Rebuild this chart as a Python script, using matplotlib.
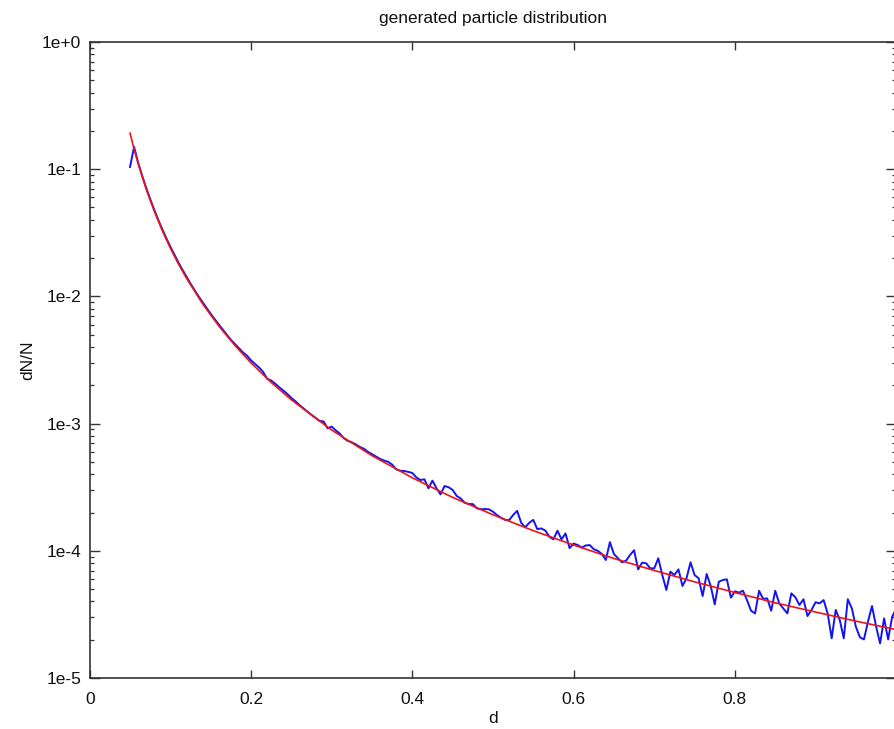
import numpy as np
import matplotlib
matplotlib.use("Agg")
import matplotlib.pyplot as plt
from matplotlib.ticker import FixedLocator, FixedFormatter, LogLocator, NullFormatter

plt.rcParams['font.family'] = ['Liberation Sans', 'DejaVu Sans']

# generated distribution, sampled every 0.005 from d = 0.05 to d = 1.0
dndn = [
    0.104, 0.150, 0.113, 0.089, 0.0715, 0.0582, 0.0480, 0.0400, 0.0337, 0.0287,
    0.0246, 0.0213, 0.0185, 0.0162, 0.0143, 0.0126, 0.0112, 0.0100, 0.00900, 0.00808,
    0.00730, 0.00662, 0.00602, 0.00549, 0.00502, 4.56e-3, 4.23e-3, 3.93e-3, 3.63e-3, 3.42e-3,
    3.14e-3, 2.94e-3, 2.76e-3, 2.55e-3, 2.25e-3, 2.18e-3, 2.06e-3, 1.93e-3, 1.82e-3, 1.71e-3,
    1.59e-3, 1.50e-3, 1.40e-3, 1.32e-3, 1.24e-3, 1.17e-3, 1.11e-3, 1.05e-3, 1.04e-3, 9.18e-4,
    9.47e-4, 8.85e-4, 8.36e-4, 7.68e-4, 7.32e-4, 7.12e-4, 6.86e-4, 6.55e-4, 6.34e-4, 6.00e-4,
    5.75e-4, 5.50e-4, 5.28e-4, 5.12e-4, 5.01e-4, 4.76e-4, 4.37e-4, 4.26e-4, 4.24e-4, 4.17e-4,
    4.09e-4, 3.78e-4, 3.60e-4, 3.65e-4, 3.10e-4, 3.56e-4, 3.10e-4, 2.78e-4, 3.23e-4, 3.16e-4,
    3.01e-4, 2.70e-4, 2.58e-4, 2.39e-4, 2.33e-4, 2.33e-4, 2.16e-4, 2.12e-4, 2.13e-4, 2.12e-4,
    2.03e-4, 1.91e-4, 1.82e-4, 1.75e-4, 1.74e-4, 1.91e-4, 2.06e-4, 1.66e-4, 1.53e-4, 1.66e-4,
    1.75e-4, 1.48e-4, 1.50e-4, 1.44e-4, 1.29e-4, 1.23e-4, 1.44e-4, 1.23e-4, 1.37e-4, 1.05e-4,
    1.14e-4, 1.11e-4, 1.06e-4, 1.10e-4, 1.11e-4, 1.03e-4, 1.00e-4, 9.44e-5, 8.47e-5, 1.17e-4,
    9.44e-5, 8.73e-5, 8.12e-5, 8.36e-5, 9.27e-5, 1.01e-4, 7.15e-5, 8.07e-5, 7.98e-5, 7.28e-5,
    7.28e-5, 8.73e-5, 6.45e-5, 4.92e-5, 6.85e-5, 6.45e-5, 7.15e-5, 5.29e-5, 6.08e-5, 8.12e-5,
    6.45e-5, 6.08e-5, 4.41e-5, 6.57e-5, 5.29e-5, 3.79e-5, 5.71e-5, 5.89e-5, 5.97e-5, 4.28e-5,
    4.80e-5, 4.69e-5, 4.85e-5, 4.10e-5, 3.38e-5, 3.22e-5, 4.85e-5, 4.18e-5, 4.23e-5, 3.38e-5,
    4.85e-5, 3.86e-5, 3.53e-5, 3.22e-5, 4.63e-5, 4.31e-5, 3.75e-5, 4.16e-5, 3.07e-5, 3.43e-5,
    3.94e-5, 3.86e-5, 4.10e-5, 3.22e-5, 2.05e-5, 3.43e-5, 2.86e-5, 2.05e-5, 4.16e-5, 3.53e-5,
    2.53e-5, 2.09e-5, 2.01e-5, 2.77e-5, 3.68e-5, 2.56e-5, 1.87e-5, 2.94e-5, 2.01e-5, 3.03e-5,
    3.50e-5,
]
d_start, d_end = 0.05, 1.0

# smooth reference curve (red)
d_fit = [0.05, 0.055, 0.06, 0.07, 0.08, 0.09, 0.10, 0.11, 0.12, 0.14, 0.16, 0.18, 0.20,
         0.225, 0.25, 0.30, 0.35, 0.40, 0.45, 0.50, 0.55, 0.60, 0.65, 0.70, 0.75, 0.80,
         0.85, 0.90, 0.95, 1.00]
dndn_fit = [0.192, 0.144, 0.111, 0.070, 0.0469, 0.0329, 0.0240, 0.0180, 0.0139, 0.00875,
            0.00586, 0.00412, 0.00300, 0.00211, 0.00154, 8.9e-4, 5.6e-4, 3.75e-4, 2.63e-4,
            1.92e-4, 1.44e-4, 1.11e-4, 8.7e-5, 7.0e-5, 5.7e-5, 4.7e-5, 3.9e-5, 3.3e-5,
            2.8e-5, 2.4e-5]

x_ticks = [0, 0.2, 0.4, 0.6, 0.8, 1.0]
x_tick_labels = ['0', '0.2', '0.4', '0.6', '0.8', '']  # the "1" falls outside the image
y_ticks = [1e-5, 1e-4, 1e-3, 1e-2, 1e-1, 1e0]
y_tick_labels = ['1e-5', '1e-4', '1e-3', '1e-2', '1e-1', '1e+0']

d = np.linspace(d_start, d_end, len(dndn))

W, H = 894, 729
fig = plt.figure(figsize=(W / 100, H / 100), dpi=100)
ax = fig.add_axes([89.7 / W, 51 / H, 806.5 / W, 636 / H])

ax.plot(d, dndn, color='#1414f0', lw=1.4)
ax.plot(d_fit, dndn_fit, color='#ee1414', lw=1.2)

ax.set_yscale('log')
ax.set_xlim(0, 1)
ax.set_ylim(1e-5, 1)

ax.xaxis.set_major_locator(FixedLocator(x_ticks))
ax.xaxis.set_major_formatter(FixedFormatter(x_tick_labels))
ax.yaxis.set_major_locator(FixedLocator(y_ticks))
ax.yaxis.set_major_formatter(FixedFormatter(y_tick_labels))
ax.yaxis.set_minor_locator(LogLocator(base=10, subs=np.arange(2, 10)))
ax.yaxis.set_minor_formatter(NullFormatter())

ax.tick_params(which='both', direction='in', top=True, right=True, colors='#333333',
               labelcolor='#111111', labelsize=12.5)
ax.tick_params(axis='x', which='major', length=6, width=1.0, pad=10)
ax.tick_params(axis='y', which='major', length=7, width=1.0, pad=6)
ax.tick_params(axis='y', which='minor', length=3.2, width=0.9)
for s in ax.spines.values():
    s.set_color('#333333')
    s.set_linewidth(1.2)

ax.set_title('generated particle distribution', fontsize=12.5, pad=14, color='#111111')
ax.set_xlabel('d', fontsize=12.5, color='#111111')
ax.set_ylabel('dN/N', fontsize=12.5, color='#111111')
ax.xaxis.set_label_coords(0.5, -0.052)
ax.yaxis.set_label_coords(-0.068, 0.5)

fig.savefig('out.png', dpi=100)
